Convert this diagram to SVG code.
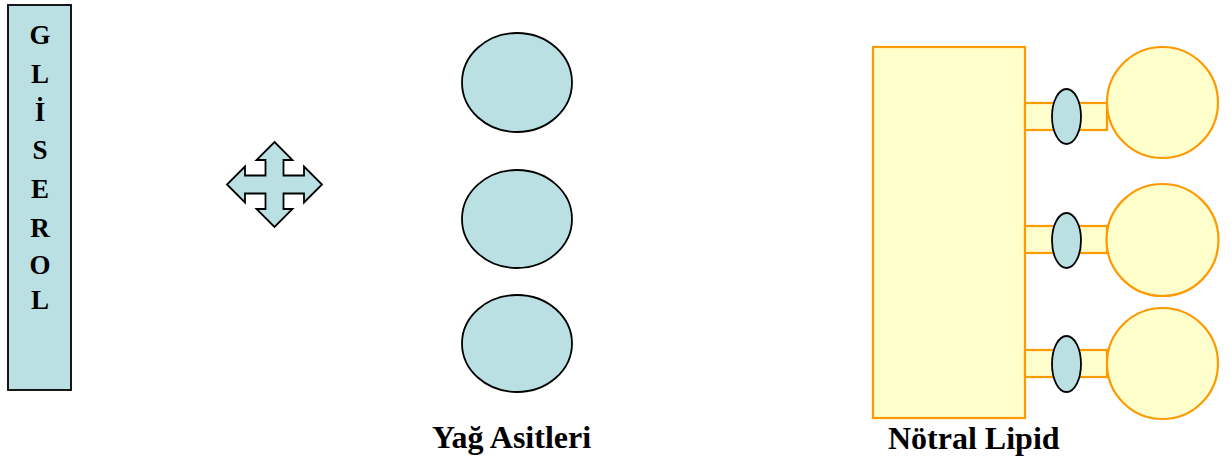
<svg xmlns="http://www.w3.org/2000/svg" width="1232" height="459" viewBox="0 0 1232 459">
  <style>
    .blue { fill: #BBE0E3; stroke: #000000; stroke-width: 1.8; }
    .yellow { fill: #FFFFCC; stroke: #FF9900; stroke-width: 2.2; }
    .letter { font-family: "Liberation Serif", "Times New Roman", serif; font-weight: bold; font-size: 27px; fill: #000; text-anchor: middle; }
    .label { font-family: "Liberation Serif", "Times New Roman", serif; font-weight: bold; font-size: 32px; fill: #000; }
  </style>

  <!-- Glycerol column -->
  <g id="gliserol">
    <rect class="blue" x="8" y="5" width="63" height="385"/>
    <text class="letter" x="40" y="44">G</text>
    <text class="letter" x="40" y="83">L</text>
    <text class="letter" x="40" y="121">İ</text>
    <text class="letter" x="40" y="159">S</text>
    <text class="letter" x="40" y="198">E</text>
    <text class="letter" x="40" y="237">R</text>
    <text class="letter" x="40" y="274">O</text>
    <text class="letter" x="40" y="309">L</text>
  </g>

  <!-- Four-way arrow -->
  <g id="quad-arrow">
    <polygon class="blue" points="274.5,142 292.5,160 283.5,160 283.5,175.5 304,175.5 304,166.5 322,184.5 304,202.5 304,193.5 283.5,193.5 283.5,209 292.5,209 274.5,227 256.5,209 265.5,209 265.5,193.5 245,193.5 245,202.5 227,184.5 245,166.5 245,175.5 265.5,175.5 265.5,160 256.5,160"/>
  </g>

  <!-- Fatty acids -->
  <g id="yag-asitleri">
    <ellipse class="blue" cx="517" cy="82.5" rx="55" ry="49.5"/>
    <ellipse class="blue" cx="517" cy="219" rx="55" ry="49"/>
    <ellipse class="blue" cx="517" cy="343.5" rx="55" ry="48.5"/>
    <text class="label" x="432" y="448">Yağ Asitleri</text>
  </g>

  <!-- Neutral lipid: glycerol backbone with three ester-linked fatty acids -->
  <g id="notral-lipid">
    <rect class="yellow" x="873" y="47" width="152" height="371"/>

    <rect class="yellow" x="1025" y="103" width="82" height="27"/>
    <circle class="yellow" cx="1162.5" cy="102.5" r="55.5"/>
    <ellipse class="blue" cx="1066.5" cy="116.5" rx="14.5" ry="27.5"/>

    <rect class="yellow" x="1025" y="226" width="82" height="27"/>
    <circle class="yellow" cx="1162.5" cy="240" r="56"/>
    <ellipse class="blue" cx="1066.5" cy="240.5" rx="14.5" ry="27.5"/>

    <rect class="yellow" x="1025" y="350" width="82" height="27"/>
    <circle class="yellow" cx="1162.5" cy="363.5" r="55.5"/>
    <ellipse class="blue" cx="1066.5" cy="364" rx="14.5" ry="28"/>

    <text class="label" x="888" y="449">Nötral Lipid</text>
  </g>

  <g id="connectors"/>
</svg>
